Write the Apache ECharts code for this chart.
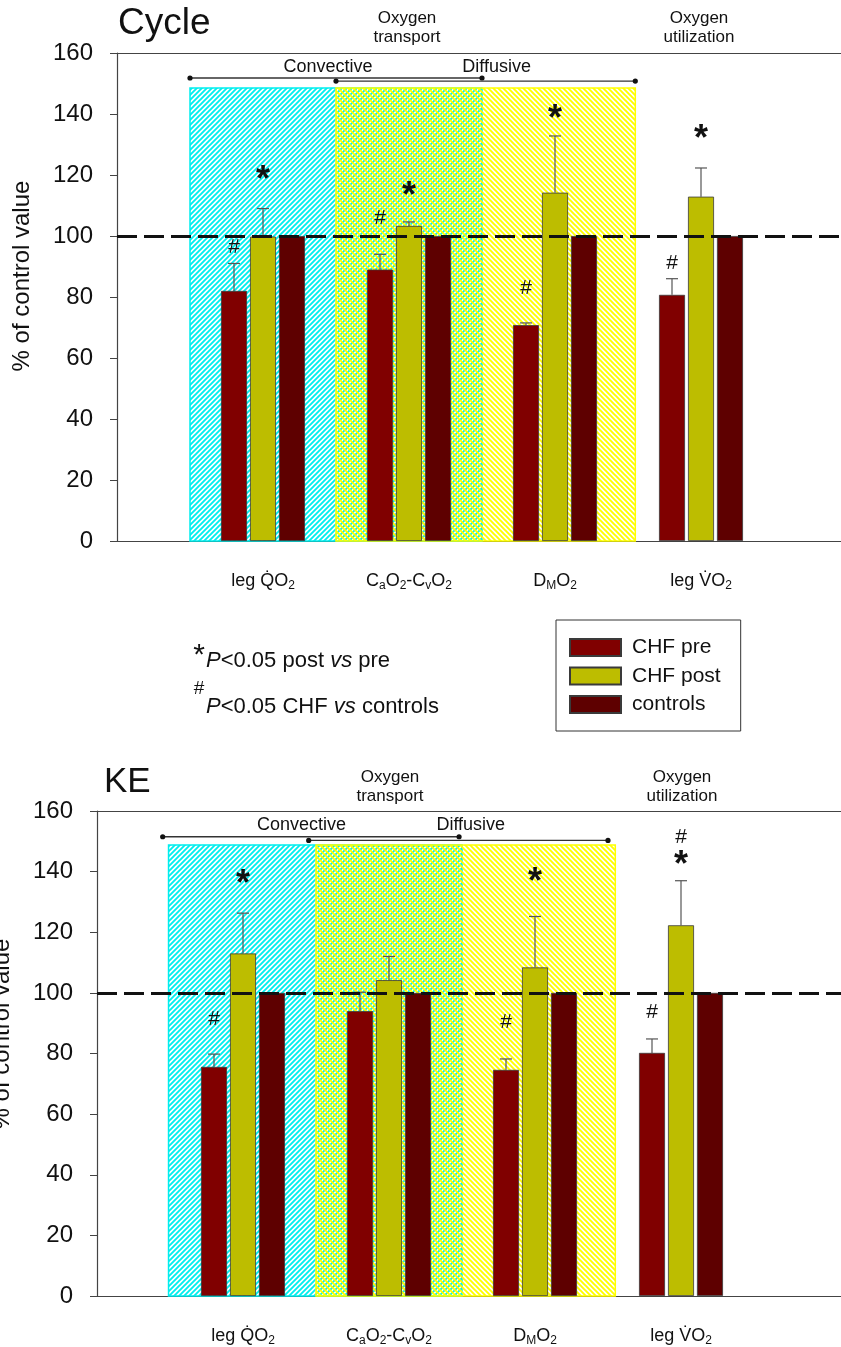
<!DOCTYPE html>
<html><head><meta charset="utf-8">
<script src="https://cdn.jsdelivr.net/npm/echarts@6/dist/echarts.min.js"></script>
<style>html,body{margin:0;padding:0;background:#fff}#c{width:841px;height:1347px}</style>
</head><body><div id="c"></div>
<script>
// ---- data ----
const categories = ['leg Q\u0307O{sub|2}', 'C{sub|a}O{sub|2}-C{sub|v}O{sub|2}', 'D{sub|M}O{sub|2}', 'leg V\u0307O{sub|2}'];
const seriesNames = ['CHF pre', 'CHF post', 'controls'];
const yTicks = [0, 20, 40, 60, 80, 100, 120, 140, 160];

// Cycle panel
const cyclePre = [82, 89, 70.8, 80.7];
const cyclePreErr = [91, 94, 71.5, 86];
const cyclePost = [99.8, 103.3, 114.2, 112.9];
const cyclePostErr = [109, 104.6, 132.8, 122.3];
const cycleCtrl = [100, 100, 100, 100];
const cycleStarAt = [120.6, 115.6, 140.7, 134.2];   // '*' over CHF post
const cycleHashAt = [96.3, 105.9, 82.8, 91];       // '#' over CHF pre
const cycleHashPostAt = [null, null, null, null];  // '#' over CHF post

// KE panel
const kePre = [75.6, 94, 74.6, 80.2];
const kePreErr = [79.8, 100.2, 78.2, 84.8];
const kePost = [113, 104.2, 108.4, 122.3];
const kePostErr = [126.3, 112, 125.2, 137];
const keCtrl = [100, 100, 100, 100];
const keStarAt = [138.4, null, 139, 144.6];
const keHashAt = [91.4, null, 90.4, 93.6];
const keHashPostAt = [null, null, null, 151.4];

// ---- styling ----
const FONT = "'Liberation Sans', Arial, Helvetica, sans-serif";
const COLORS = ['#800000', '#BDBD00', '#5E0000'];
const BAR_W = 26, BAR_STEP = 29;
const W = 841, UNIT = 146;

function hatch(color, dir) {
  const s = 5, c = document.createElement('canvas');
  c.width = s; c.height = s;
  const g = c.getContext('2d');
  g.strokeStyle = color; g.lineWidth = 1.9; g.beginPath();
  if (dir > 0) {
    g.moveTo(0, s); g.lineTo(s, 0);
    g.moveTo(-1, 1); g.lineTo(1, -1);
    g.moveTo(s - 1, s + 1); g.lineTo(s + 1, s - 1);
  } else {
    g.moveTo(0, 0); g.lineTo(s, s);
    g.moveTo(-1, s - 1); g.lineTo(1, s + 1);
    g.moveTo(s - 1, -1); g.lineTo(s + 1, 1);
  }
  g.stroke();
  return c;
}
const cyanPat = { image: hatch('#00EEEE', 1), repeat: 'repeat' };
const yellowPat = { image: hatch('#FFFF00', -1), repeat: 'repeat' };

const chart = echarts.init(document.getElementById('c'), null, { renderer: 'canvas' });

const grids = [
  { left: 117, top: 53, right: 0, height: 488 },
  { left: 97, top: 811, right: 0, height: 487 }
];
const xMax = grids.map(function (g) { return (W - g.left) / UNIT; });

function makePanel(gi, d) {
  const series = [];
  const ax = { xAxisIndex: gi, yAxisIndex: gi };
  // shaded regions
  series.push(Object.assign({
    type: 'custom', z: 1, silent: true, clip: false,
    data: d.regions,
    renderItem: function (params, api) {
      const p0 = api.coord([api.value(0), api.value(2)]);
      const p1 = api.coord([api.value(1), 0]);
      const cyan = params.dataIndex === 0;
      return {
        type: 'rect',
        shape: { x: p0[0], y: p0[1], width: p1[0] - p0[0], height: p1[1] - p0[1] },
        style: { fill: cyan ? cyanPat : yellowPat, stroke: cyan ? '#00EEEE' : '#FFFF00', lineWidth: 1.5 }
      };
    }
  }, ax));
  // brackets
  series.push(Object.assign({
    type: 'custom', z: 2, silent: true, clip: false,
    data: d.brackets,
    renderItem: function (params, api) {
      const a = api.coord([api.value(0), api.value(2)]);
      const b = api.coord([api.value(1), api.value(2)]);
      const t = api.coord([api.value(3), api.value(4)]);
      return {
        type: 'group', children: [
          { type: 'line', shape: { x1: a[0], y1: a[1], x2: b[0], y2: b[1] }, style: { stroke: '#333', lineWidth: 1.3 } },
          { type: 'circle', shape: { cx: a[0], cy: a[1], r: 2.6 }, style: { fill: '#111' } },
          { type: 'circle', shape: { cx: b[0], cy: b[1], r: 2.6 }, style: { fill: '#111' } },
          { type: 'text', x: t[0], y: t[1], style: { text: d.bracketNames[params.dataIndex], font: '18px ' + FONT, fill: '#111', align: 'center', verticalAlign: 'middle', textAlign: 'center', textVerticalAlign: 'middle' } }
        ]
      };
    }
  }, ax));
  // bars
  const vals = [d.pre, d.post, d.ctrl];
  vals.forEach(function (arr, k) {
    series.push(Object.assign({
      type: 'bar', name: seriesNames[k], z: 3,
      barWidth: BAR_W, barGap: '11.5%',
      itemStyle: { color: COLORS[k], borderColor: '#3a3a3a', borderWidth: 0.8 },
      data: arr.map(function (v, i) { return [i + 1, v]; })
    }, ax));
  });
  // error bars
  [[d.pre, d.preErr, -BAR_STEP], [d.post, d.postErr, 0]].forEach(function (e) {
    const off = e[2];
    series.push(Object.assign({
      type: 'custom', z: 2, silent: true, clip: false,
      data: e[0].map(function (v, i) { return [i + 1, v, e[1][i]]; }),
      renderItem: function (params, api) {
        const b = api.coord([api.value(0), api.value(1)]);
        const t = api.coord([api.value(0), api.value(2)]);
        const x = b[0] + off;
        return {
          type: 'group', children: [
            { type: 'line', shape: { x1: x, y1: b[1], x2: x, y2: t[1] }, style: { stroke: '#555', lineWidth: 1.2 } },
            { type: 'line', shape: { x1: x - 6, y1: t[1], x2: x + 6, y2: t[1] }, style: { stroke: '#555', lineWidth: 1.2 } }
          ]
        };
      }
    }, ax));
  });
  // significance markers
  [[d.star, 0, '*'], [d.hash, -BAR_STEP, '#'], [d.hashPost, 0, '#']].forEach(function (m) {
    const off = m[1], sym = m[2];
    const data = [];
    m[0].forEach(function (v, i) { if (v != null) data.push([i + 1, v]); });
    series.push(Object.assign({
      type: 'custom', z: 5, silent: true, clip: false,
      data: data,
      renderItem: function (params, api) {
        const p = api.coord([api.value(0), api.value(1)]);
        const star = sym === '*';
        const fs = star ? 36 : 21;
        return {
          type: 'text', x: p[0] + off, y: p[1] + (star ? fs * 0.23 : 0),
          style: { text: sym, font: (star ? 'bold ' : '') + fs + 'px ' + FONT, fill: '#111', align: 'center', verticalAlign: 'middle', textAlign: 'center', textVerticalAlign: 'middle' }
        };
      }
    }, ax));
  });
  // dashed reference line at 100
  series.push(Object.assign({
    type: 'line', z: 6, data: [], silent: true,
    markLine: {
      silent: true, symbol: 'none', z: 6,
      label: { show: false },
      lineStyle: { type: [20, 7], width: 3, color: '#111' },
      data: [{ yAxis: 100 }]
    }
  }, ax));
  return series;
}

const cycleSeries = makePanel(0, {
  pre: cyclePre, preErr: cyclePreErr, post: cyclePost, postErr: cyclePostErr, ctrl: cycleCtrl,
  star: cycleStarAt, hash: cycleHashAt, hashPost: cycleHashPostAt,
  regions: [[0.5, 2.5, 148.5], [1.5, 3.55, 148.5]],
  brackets: [[0.5, 2.5, 151.8, 1.445, 155.4], [1.5, 3.55, 150.8, 2.6, 155.4]],
  bracketNames: ['Convective', 'Diffusive']
});
const keSeries = makePanel(1, {
  pre: kePre, preErr: kePreErr, post: kePost, postErr: kePostErr, ctrl: keCtrl,
  star: keStarAt, hash: keHashAt, hashPost: keHashPostAt,
  regions: [[0.49, 2.5, 148.8], [1.5, 3.55, 148.8]],
  brackets: [[0.45, 2.48, 151.5, 1.40, 155.4], [1.45, 3.5, 150.3, 2.56, 155.4]],
  bracketNames: ['Convective', 'Diffusive']
});

function xAxis(gi) {
  return {
    type: 'value', gridIndex: gi, min: 0, max: xMax[gi], interval: 1,
    axisLine: { show: true, lineStyle: { color: '#444', width: 1.2 } },
    axisTick: { show: false }, splitLine: { show: false },
    axisLabel: {
      margin: 29, color: '#111', fontFamily: FONT, fontSize: 18, showMaxLabel: false,
      formatter: function (v) { return categories[v - 1] || ''; },
      rich: { sub: { fontSize: 12, fontFamily: FONT, color: '#111', verticalAlign: 'bottom', padding: [10, 0, 0, 0] } }
    }
  };
}
function xTopAxis(gi) {
  return {
    type: 'value', gridIndex: gi, position: 'top', min: 0, max: xMax[gi],
    axisLine: { show: true, onZero: false, lineStyle: { color: '#444', width: 1.2 } },
    axisTick: { show: false }, axisLabel: { show: false }, splitLine: { show: false }
  };
}
function yAxis(gi) {
  return {
    type: 'value', gridIndex: gi, min: yTicks[0], max: yTicks[yTicks.length - 1], interval: yTicks[1] - yTicks[0],
    axisLine: { show: true, lineStyle: { color: '#444', width: 1.2 } },
    axisTick: { show: true, inside: false, length: 7, lineStyle: { color: '#444' } },
    splitLine: { show: false },
    axisLabel: { margin: 24, color: '#111', fontFamily: FONT, fontSize: 24 }
  };
}

const option = {
  animation: false,
  backgroundColor: '#fff',
  grid: grids.map(function (g) { return Object.assign({ show: false }, g); }),
  xAxis: [xAxis(0), xAxis(1), xTopAxis(0), xTopAxis(1)],
  yAxis: [yAxis(0), yAxis(1)],
  legend: {
    data: seriesNames, orient: 'vertical', left: 556, top: 620,
    icon: 'rect', itemWidth: 51, itemHeight: 17, itemGap: 7.5,
    borderColor: '#333', borderWidth: 1, padding: [17, 20, 16, 13],
    textStyle: { fontFamily: FONT, fontSize: 21, color: '#111', padding: [0, 0, 0, 6] }
  },
  graphic: [
    { type: 'text', left: 118, top: 5, style: { text: 'Cycle', font: '37px ' + FONT, fill: '#111' } },
    { type: 'text', left: 104, top: 765, style: { text: 'KE', font: '35px ' + FONT, fill: '#111' } },
    { type: 'text', x: 407, y: 28, style: { text: 'Oxygen\ntransport', font: '17px ' + FONT, lineHeight: 19, fill: '#111', align: 'center', verticalAlign: 'middle' } },
    { type: 'text', x: 699, y: 28, style: { text: 'Oxygen\nutilization', font: '17px ' + FONT, lineHeight: 19, fill: '#111', align: 'center', verticalAlign: 'middle' } },
    { type: 'text', x: 390, y: 787, style: { text: 'Oxygen\ntransport', font: '17px ' + FONT, lineHeight: 19, fill: '#111', align: 'center', verticalAlign: 'middle' } },
    { type: 'text', x: 682, y: 787, style: { text: 'Oxygen\nutilization', font: '17px ' + FONT, lineHeight: 19, fill: '#111', align: 'center', verticalAlign: 'middle' } },
    { type: 'text', x: 22, y: 276, rotation: Math.PI / 2, style: { text: '% of control value', font: '24px ' + FONT, fill: '#111', align: 'center', verticalAlign: 'middle' } },
    { type: 'text', x: 2, y: 1034, rotation: Math.PI / 2, style: { text: '% of control value', font: '24px ' + FONT, fill: '#111', align: 'center', verticalAlign: 'middle' } },
    { type: 'text', x: 199, y: 656, style: { text: '*', font: '30px ' + FONT, fill: '#111', align: 'center', verticalAlign: 'middle' } },
    { type: 'text', x: 206, y: 661, style: { text: '{i|P}<0.05 post {i|vs} pre', font: '22px ' + FONT, fill: '#111', verticalAlign: 'middle', rich: { i: { fontStyle: 'italic', fontSize: 22, fontFamily: FONT } } } },
    { type: 'text', x: 199, y: 689, style: { text: '#', font: '19px ' + FONT, fill: '#111', align: 'center', verticalAlign: 'middle' } },
    { type: 'text', x: 206, y: 707, style: { text: '{i|P}<0.05 CHF {i|vs} controls', font: '22px ' + FONT, fill: '#111', verticalAlign: 'middle', rich: { i: { fontStyle: 'italic', fontSize: 22, fontFamily: FONT } } } }
  ],
  series: cycleSeries.concat(keSeries)
};
chart.setOption(option);
</script></body></html>
